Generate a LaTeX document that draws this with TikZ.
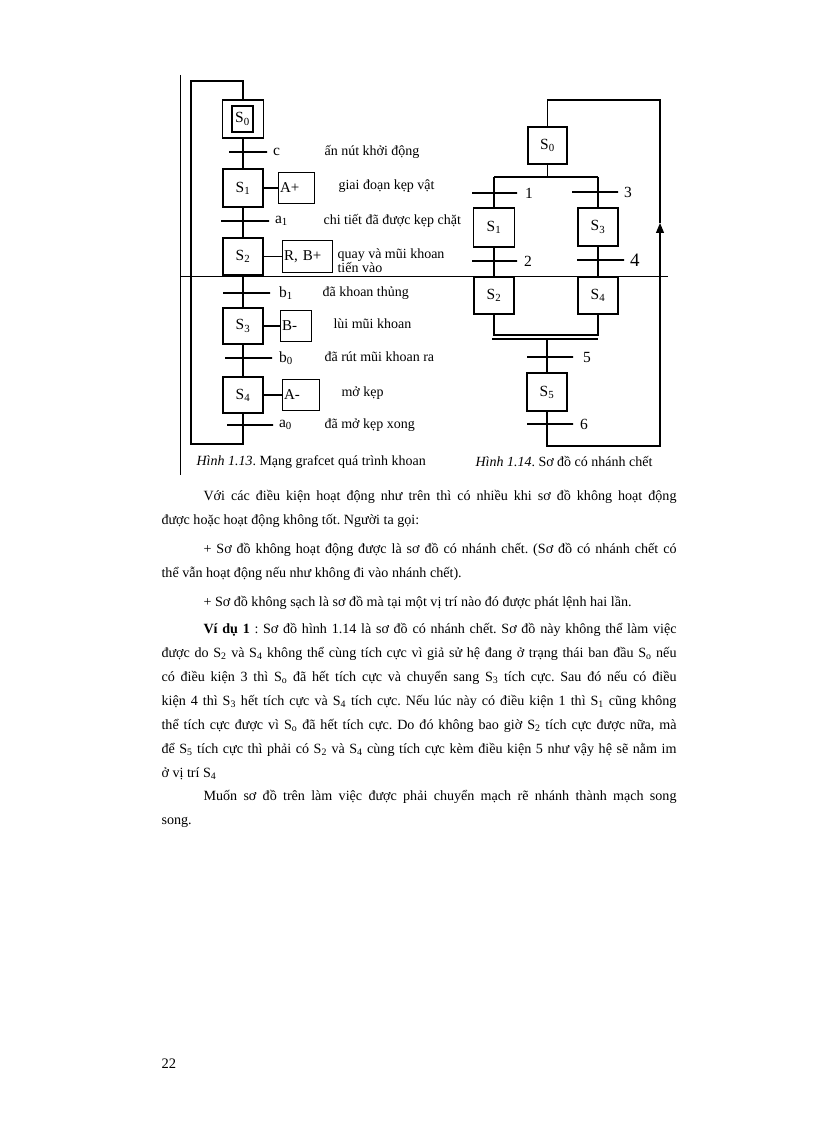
\documentclass[tikz,border=0pt]{standalone}
\usepackage{fontspec}
\setmainfont{Liberation Serif}
\usetikzlibrary{arrows.meta, positioning}
\frenchspacing

\begin{document}
\begin{tikzpicture}[
  x=1pt, y=-1pt,
  font=\fontsize{14}{16}\selectfont,
  line width=1.1pt,
  stepbox/.style={draw, minimum width=40pt, minimum height=37pt, inner sep=0pt, font=\fontsize{15.5}{17}\selectfont},
  actbox/.style={draw, inner xsep=2pt, inner ysep=0pt, minimum height=31pt, text width=#1, align=left, font=\fontsize{15}{17}\selectfont},
  trbar/.style={draw, minimum width=#1, minimum height=0pt, inner sep=0pt},
  cond/.style={anchor=west, inner sep=0pt},
  num/.style={anchor=west, inner sep=0pt, font=\fontsize{15.5}{17}\selectfont},
  para/.style={anchor=base west, inner sep=0pt, text width=515pt, align=justify, font=\fontsize{14.1}{24}\selectfont},
  scan/.style={line width=0.7pt}
]
  \useasboundingbox (0,0) rectangle (816,1123);
  \fill[white] (0,0) rectangle (816,1123);

  % vet scan
  \coordinate (fr1) at (180,75);
  \coordinate (fr2) at (180,475);
  \coordinate (hl1) at (180,276);
  \coordinate (hl2) at (668,276);
  \draw[scan] (fr1) -- (fr2);
  \draw[scan] (hl1) -- (hl2);

  % Hinh 1.13
  \node[stepbox, minimum width=41pt, minimum height=38pt] (s0) at (243,119) {};
  \node[draw, minimum width=21pt, minimum height=26pt, inner sep=0pt, font=\fontsize{15.5}{17}\selectfont] (s0i) at (242.5,119) {S\textsubscript{0}};
  \node[trbar=38pt] (tc) at (248,152) {};
  \node[stepbox, minimum height=38pt] (s1) at (243,188) {S\textsubscript{1}};
  \node[trbar=48pt] (ta1) at (245,221) {};
  \node[stepbox] (s2) at (243,256.5) {S\textsubscript{2}};
  \node[trbar=47pt] (tb1) at (246.5,293) {};
  \node[stepbox, minimum height=36pt] (s3) at (243,326) {S\textsubscript{3}};
  \node[trbar=47pt] (tb0) at (248.5,358) {};
  \node[stepbox, minimum height=36pt] (s4) at (243,395) {S\textsubscript{4}};
  \node[trbar=46pt] (ta0) at (250,425) {};

  \node[actbox=32pt, right=14pt of s1] (ap) {A+};
  \node[actbox=46pt, minimum height=32pt, right=18pt of s2] (rb) {R, B+};
  \node[actbox=27pt, right=16pt of s3] (bm) {B-};
  \node[actbox=33pt, right=18pt of s4] (am) {A-};
  \draw (s1) -- (ap);
  \draw (s2) -- (rb);
  \draw (s3) -- (bm);
  \draw (s4) -- (am);

  \node[num, right=5pt of tc] {c};
  \node[num, right=5pt of ta1] {a\textsubscript{1}};
  \node[num, right=8pt of tb1] {b\textsubscript{1}};
  \node[num, right=6pt of tb0] {b\textsubscript{0}};
  \node[num, right=5pt of ta0] {a\textsubscript{0}};

  \node[cond] (d1) at (324,152) {ấn nút khởi động};
  \node[cond] (d2) at (338,186) {giai đoạn kẹp vật};
  \node[cond] (d3) at (323,221) {chi tiết đã được kẹp chặt};
  \node[cond, align=left, font=\fontsize{14}{13}\selectfont] (d4) at (337,261) {quay và mũi khoan\\tiến vào};
  \node[cond] (d5) at (322,293) {đã khoan thủng};
  \node[cond] (d6) at (333,324) {lùi mũi khoan};
  \node[cond] (d7) at (324,357) {đã rút mũi khoan ra};
  \node[cond] (d8) at (341,393) {mở kẹp};
  \node[cond] (d9) at (324,425) {đã mở kẹp xong};

  \coordinate (lbot) at (243,444);
  \coordinate (ltop) at (191,81);
  \draw (s0) -- (s1) -- (s2) -- (s3) -- (s4) -- (lbot) -| (ltop) -| (s0.north);

  \node[cond] (cap1) at (196,462) {\textit{Hình 1.13}. Mạng grafcet quá trình khoan};

  % Hinh 1.14
  \node[stepbox, minimum width=39pt] (r0) at (547.5,145.5) {S\textsubscript{0}};
  \node[stepbox, minimum width=41pt, minimum height=39pt] (r1) at (494,227.5) {S\textsubscript{1}};
  \node[stepbox] (r2) at (494,295.5) {S\textsubscript{2}};
  \node[stepbox, minimum height=38pt] (r3) at (598,227) {S\textsubscript{3}};
  \node[stepbox] (r4) at (598,295.5) {S\textsubscript{4}};
  \node[stepbox, minimum height=38pt] (r5) at (547,392) {S\textsubscript{5}};

  \node[trbar=45pt] (t1) at (494.5,193) {};
  \node[trbar=45pt] (t2) at (494.5,261) {};
  \node[trbar=46pt] (t3) at (595,192) {};
  \node[trbar=47pt] (t4) at (600.5,260) {};
  \node[trbar=46pt] (t5) at (550,357) {};
  \node[trbar=46pt] (t6) at (550,424) {};
  \node[num, right=7pt of t1] {1};
  \node[num, right=6pt of t2] {2};
  \node[num, right=5pt of t3] {3};
  \node[num, right=5pt of t4, font=\fontsize{19}{21}\selectfont] {4};
  \node[num, right=9pt of t5] {5};
  \node[num, right=6pt of t6] {6};

  \coordinate (dv) at (547.5,177);
  \coordinate (dvl) at (494,177);
  \coordinate (dvr) at (598,177);
  \draw (r0) -- (dv);
  \draw (dvl) -- (dvr);
  \draw (dvl) -- (r1) -- (r2);
  \draw (dvr) -- (r3) -- (r4);

  \coordinate (jl) at (494,335);
  \coordinate (jr) at (598,335);
  \draw (r2) -- (jl) -- (jr) -- (r4);
  \coordinate (sl) at (492,339);
  \coordinate (sr) at (598,339);
  \coordinate (sc) at (547,339);
  \draw (sl) -- (sr);
  \draw (sc) -- (r5);

  \coordinate (rbot) at (547,446);
  \coordinate (rcor) at (660,446);
  \coordinate (rarr) at (660,223);
  \coordinate (rtop) at (660,100);
  \draw[-{Triangle[length=10pt,width=8pt]}] (r5) -- (rbot) -- (rcor) -- (rarr);
  \draw (rarr) -- (rtop) -| (r0.north);

  \node[cond] (cap2) at (475,462) {\textit{Hình 1.14}. Sơ đồ có nhánh chết};

  % van ban
  \node[para] (p1) at (161,500) {\hspace*{42pt}Với các điều kiện hoạt động như trên thì có nhiều khi sơ đồ không hoạt động\linebreak được hoặc hoạt động không tốt. Người ta gọi:};
  \node[para] (p2) at (161,553) {\hspace*{42pt}+ Sơ đồ không hoạt động được là sơ đồ có nhánh chết. (Sơ đồ có nhánh chết có\linebreak thể vẫn hoạt động nếu như không đi vào nhánh chết).};
  \node[para] (p3) at (161,606) {\hspace*{42pt}+ Sơ đồ không sạch là sơ đồ mà tại một vị trí nào đó được phát lệnh hai lần.};
  \node[para] (p4) at (161,633) {\hspace*{42pt}\textbf{Ví dụ 1} : Sơ đồ hình 1.14 là sơ đồ có nhánh chết. Sơ đồ này không thể làm việc\linebreak được do S\textsubscript{2} và S\textsubscript{4} không thể cùng tích cực vì giả sử hệ đang ở trạng thái ban đầu S\textsubscript{o} nếu\linebreak có điều kiện 3 thì S\textsubscript{o} đã hết tích cực và chuyển sang S\textsubscript{3} tích cực. Sau đó nếu có điều\linebreak kiện 4 thì S\textsubscript{3} hết tích cực và S\textsubscript{4} tích cực. Nếu lúc này có điều kiện 1 thì S\textsubscript{1} cũng không\linebreak thể tích cực được vì S\textsubscript{o} đã hết tích cực. Do đó không bao giờ S\textsubscript{2} tích cực được nữa, mà\linebreak để S\textsubscript{5} tích cực thì phải có S\textsubscript{2} và S\textsubscript{4} cùng tích cực kèm điều kiện 5 như vậy hệ sẽ nằm im\linebreak ở vị trí S\textsubscript{4}};
  \node[para] (p5) at (161,800) {\hspace*{42pt}Muốn sơ đồ trên làm việc được phải chuyển mạch rẽ nhánh thành mạch song\linebreak song.};

  \node[anchor=base west, inner sep=0pt, font=\fontsize{14.5}{17}\selectfont] (pg) at (161,1068) {22};
\end{tikzpicture}
\end{document}
